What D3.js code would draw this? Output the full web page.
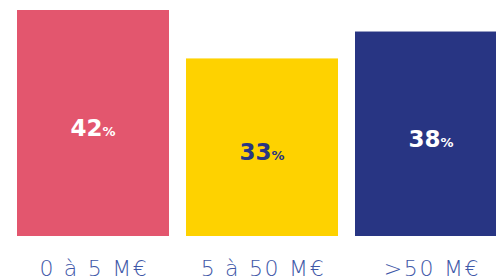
<!DOCTYPE html>
<html>
<head>
<meta charset="utf-8">
<script src="https://cdn.jsdelivr.net/npm/d3@7"></script>
<style>
  body { margin: 0; background: #fff; }
  svg { display: block; }
</style>
</head>
<body>
<div id="chart"></div>
<script>
// data
var categories = ["0 à 5 M€", "5 à 50 M€", ">50 M€"];
var values = [42, 33, 38];
var barColors = ["#e3566e", "#fed200", "#283583"];
var labelColors = ["#ffffff", "#283583", "#ffffff"];

var width = 496, height = 280;
var baseline = 236;

var svg = d3.select("#chart").append("svg")
    .attr("width", width)
    .attr("height", height);

var data = categories.map(function (c, i) {
    return {cat: c, value: values[i], color: barColors[i], label: labelColors[i]};
});

// scales
var x = d3.scaleBand()
    .domain(categories)
    .range([17, 507])
    .paddingInner(17 / 169)
    .paddingOuter(0);
var y = d3.scaleLinear()
    .domain([0, 42])
    .range([baseline, 10]);

svg.selectAll("rect.bar")
    .data(data)
    .enter().append("rect")
    .attr("class", "bar")
    .attr("x", function (d) { return x(d.cat); })
    .attr("width", x.bandwidth())
    .attr("y", function (d) { return y(d.value); })
    .attr("height", function (d) { return baseline - y(d.value); })
    .style("fill", function (d) { return d.color; });

// value labels
var lab = svg.selectAll("text.val")
    .data(data)
    .enter().append("text")
    .attr("class", "val")
    .attr("x", function (d) { return x(d.cat) + x.bandwidth() / 2; })
    .attr("y", function (d) { return (y(d.value) + baseline) / 2 + 13; })
    .attr("text-anchor", "middle")
    .style("font-family", "'DejaVu Sans', sans-serif")
    .style("font-weight", "bold")
    .style("fill", function (d) { return d.label; });
lab.append("tspan")
    .style("font-size", "23px")
    .text(function (d) { return d.value; });
lab.append("tspan")
    .style("font-size", "13px")
    .text("%");

// x axis (labels only)
var axis = svg.append("g")
    .attr("transform", "translate(0," + baseline + ")")
    .call(d3.axisBottom(x).tickSize(0).tickPadding(0));
axis.select(".domain").remove();
axis.selectAll("text")
    .attr("y", 40)
    .attr("dy", null)
    .attr("dx", "1px")
    .style("font-family", "'DejaVu Sans', sans-serif")
    .style("font-weight", "200")
    .style("font-size", "22px")
    .style("letter-spacing", "1.7px")
    .style("fill", "#3f58a8");
</script>
</body>
</html>
